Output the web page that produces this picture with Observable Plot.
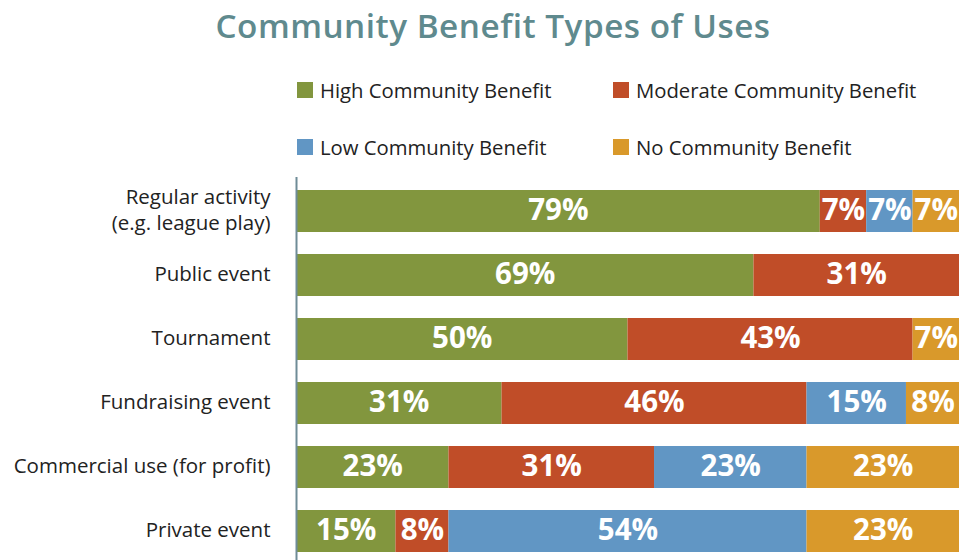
<!DOCTYPE html>
<html>
<head>
<meta charset="utf-8">
<script src="https://cdn.jsdelivr.net/npm/d3@7"></script>
<script src="https://cdn.jsdelivr.net/npm/@observablehq/plot@0.6"></script>
<style>
  html, body { margin: 0; padding: 0; background: #fff; }
  body { width: 968px; height: 560px; position: relative; font-family: "Open Sans", sans-serif; overflow: hidden; }
  #title { position: absolute; left: 0; width: 986px; top: 2px; text-align: center; font-size: 33.3px; font-weight: 600; color: #5f8a8e; letter-spacing: 0.5px; }
  .leg { position: absolute; font-size: 20.3px; color: #222; display: flex; align-items: center; white-space: nowrap; }
  .sw { width: 16px; height: 16px; margin-right: 7px; }
  #chart { position: absolute; left: 0; top: 170px; }
</style>
</head>
<body>
<div id="title">Community Benefit Types of Uses</div>
<div id="legend"></div>
<div id="chart"></div>
<script>
const categories = [
  "Regular activity\n(e.g. league play)",
  "Public event",
  "Tournament",
  "Fundraising event",
  "Commercial use (for profit)",
  "Private event"
];
const seriesNames = ["High Community Benefit", "Moderate Community Benefit", "Low Community Benefit", "No Community Benefit"];
const seriesColors = ["#82963e", "#c04d28", "#6196c4", "#d9992b"];
const high     = [79, 69, 50, 31, 23, 15];
const moderate = [7, 31, 43, 46, 31, 8];
const low      = [7, 0, 0, 15, 23, 54];
const none     = [7, 0, 7, 8, 23, 23];

const seriesValues = [high, moderate, low, none];
const data = [];
categories.forEach((c, i) => {
  seriesValues.forEach((vals, s) => {
    if (vals[i] > 0) data.push({cat: c, type: seriesNames[s], value: vals[i]});
  });
});

// legend
const legendPos = [[297, 82], [613, 82], [297, 139], [613, 139]];
const legend = document.getElementById("legend");
seriesNames.forEach((n, i) => {
  const d = document.createElement("div");
  d.className = "leg";
  d.style.left = legendPos[i][0] + "px";
  d.style.top = (legendPos[i][1] - 5) + "px";
  d.style.height = "26px";
  d.innerHTML = `<div class="sw" style="background:${seriesColors[i]}"></div><span>${n}</span>`;
  legend.appendChild(d);
});

const chart = Plot.plot({
  width: 968,
  height: 390,
  marginLeft: 296,
  marginRight: 9,
  marginTop: 7,
  marginBottom: 0,
  style: {fontFamily: "Open Sans, sans-serif", background: "transparent"},
  x: {domain: [0, 100], axis: null},
  y: {domain: categories, range: [9, 393], paddingInner: 0.34, paddingOuter: 0.17, axis: null},
  color: {domain: seriesNames, range: seriesColors},
  marks: [
    Plot.barX(data, Plot.stackX({x: "value", y: "cat", fill: "type", order: seriesNames})),
    Plot.text(data, Plot.stackX({x: "value", y: "cat", z: "type", order: seriesNames,
      text: d => d.value + "%", fill: "white", fontSize: 29.5, fontWeight: "bold", dy: -1})),
    Plot.text(categories, {x: () => 0, y: d => d, text: d => d, dx: -26, dy: -3, textAnchor: "end",
      fontSize: 20.5, fill: "#222", lineHeight: 1.26}),
    Plot.ruleX([0], {stroke: "#6f8c97", strokeWidth: 2})
  ]
});
document.getElementById("chart").appendChild(chart);
</script>
</body>
</html>
